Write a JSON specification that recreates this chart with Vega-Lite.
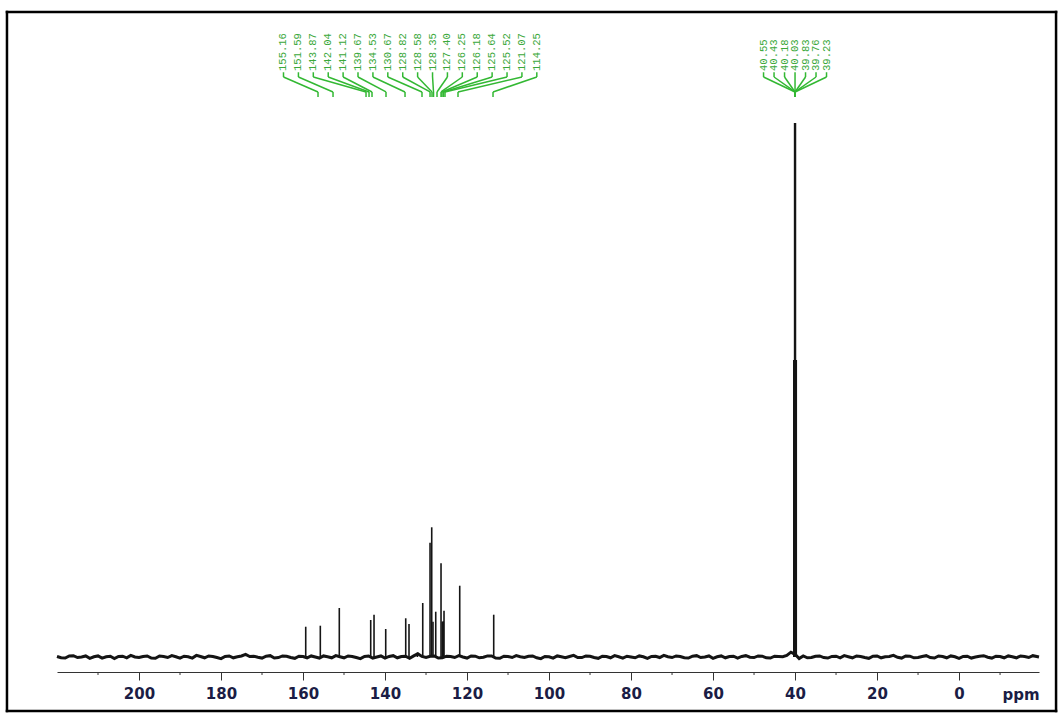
{
  "$schema": "https://vega.github.io/schema/vega-lite/v6.json",
  "autosize": {"type": "none"},
  "padding": {"left": 57, "right": 23, "top": 40, "bottom": 41},
  "width": 982,
  "height": 632,
  "background": "white",
  "config": {"view": {"stroke": null}},
  "datasets": {
    "peaks": [
      {"ppm": 159.34, "h": 5.67},
      {"ppm": 155.78, "h": 5.86},
      {"ppm": 151.15, "h": 9.18},
      {"ppm": 143.49, "h": 6.93},
      {"ppm": 142.68, "h": 7.92},
      {"ppm": 139.83, "h": 5.24},
      {"ppm": 134.95, "h": 7.25},
      {"ppm": 134.15, "h": 6.18},
      {"ppm": 132.1, "h": 0.8},
      {"ppm": 130.8, "h": 10.11},
      {"ppm": 129.02, "h": 21.4},
      {"ppm": 128.61, "h": 24.29},
      {"ppm": 128.3, "h": 6.6},
      {"ppm": 127.63, "h": 8.48},
      {"ppm": 126.34, "h": 17.55},
      {"ppm": 126.02, "h": 6.61},
      {"ppm": 125.8, "h": 6.7},
      {"ppm": 125.61, "h": 8.67},
      {"ppm": 121.78, "h": 13.35},
      {"ppm": 113.49, "h": 7.92},
      {"ppm": 40.3, "h": 55.6},
      {"ppm": 40.1, "h": 100},
      {"ppm": 39.9, "h": 100},
      {"ppm": 39.7, "h": 55.6}
    ],
    "minor": [
      {"v": 210}, {"v": 190}, {"v": 170}, {"v": 150}, {"v": 130}, {"v": 110},
      {"v": 90}, {"v": 70}, {"v": 50}, {"v": 30}, {"v": 10}, {"v": -10}
    ],
    "base": [
      {"ppm": 220, "h": 0.1}, {"ppm": 219, "h": -0.15}, {"ppm": 218, "h": -0.2}, {"ppm": 217, "h": 0.2}, {"ppm": 216, "h": 0.25}, {"ppm": 215, "h": -0.1}, {"ppm": 214, "h": 0.0}, {"ppm": 213, "h": 0.2},
      {"ppm": 212, "h": -0.25}, {"ppm": 211, "h": 0.05}, {"ppm": 210, "h": 0.2}, {"ppm": 209, "h": -0.2}, {"ppm": 208, "h": 0.05}, {"ppm": 207, "h": 0.15}, {"ppm": 206, "h": -0.3}, {"ppm": 205, "h": 0.1},
      {"ppm": 204, "h": 0.15}, {"ppm": 203, "h": -0.15}, {"ppm": 202, "h": 0.3}, {"ppm": 201, "h": 0.0}, {"ppm": 200, "h": -0.1}, {"ppm": 199, "h": 0.1}, {"ppm": 198, "h": 0.2}, {"ppm": 197, "h": -0.2},
      {"ppm": 196, "h": -0.25}, {"ppm": 195, "h": 0.2}, {"ppm": 194, "h": 0.1}, {"ppm": 193, "h": -0.1}, {"ppm": 192, "h": 0.25}, {"ppm": 191, "h": 0.05}, {"ppm": 190, "h": -0.2}, {"ppm": 189, "h": 0.15},
      {"ppm": 188, "h": 0.05}, {"ppm": 187, "h": -0.2}, {"ppm": 186, "h": 0.3}, {"ppm": 185, "h": 0.1}, {"ppm": 184, "h": -0.15}, {"ppm": 183, "h": 0.2}, {"ppm": 182, "h": 0.1}, {"ppm": 181, "h": -0.1},
      {"ppm": 180, "h": -0.3}, {"ppm": 179, "h": 0.1}, {"ppm": 178, "h": 0.2}, {"ppm": 177, "h": -0.15}, {"ppm": 176, "h": 0.05}, {"ppm": 175, "h": 0.2}, {"ppm": 174, "h": 0.5}, {"ppm": 173, "h": 0.1},
      {"ppm": 172, "h": 0.15}, {"ppm": 171, "h": -0.05}, {"ppm": 170, "h": -0.2}, {"ppm": 169, "h": 0.15}, {"ppm": 168, "h": 0.25}, {"ppm": 167, "h": -0.2}, {"ppm": 166, "h": -0.1}, {"ppm": 165, "h": 0.2},
      {"ppm": 164, "h": 0.15}, {"ppm": 163, "h": -0.1}, {"ppm": 162, "h": -0.25}, {"ppm": 161, "h": 0.15}, {"ppm": 160, "h": 0.1}, {"ppm": 159, "h": -0.15}, {"ppm": 158, "h": 0.2}, {"ppm": 157, "h": 0.0},
      {"ppm": 156, "h": -0.2}, {"ppm": 155, "h": 0.2}, {"ppm": 154, "h": 0.05}, {"ppm": 153, "h": -0.15}, {"ppm": 152, "h": 0.25}, {"ppm": 151, "h": 0.05}, {"ppm": 150, "h": -0.15}, {"ppm": 149, "h": 0.2},
      {"ppm": 148, "h": 0.1}, {"ppm": 147, "h": -0.1}, {"ppm": 146, "h": -0.3}, {"ppm": 145, "h": 0.1}, {"ppm": 144, "h": 0.2}, {"ppm": 143, "h": -0.2}, {"ppm": 142, "h": 0.0}, {"ppm": 141, "h": 0.2},
      {"ppm": 140, "h": -0.2}, {"ppm": 139, "h": 0.1}, {"ppm": 138, "h": 0.25}, {"ppm": 137, "h": -0.15}, {"ppm": 136, "h": 0.1}, {"ppm": 135, "h": 0.15}, {"ppm": 134, "h": -0.25}, {"ppm": 133, "h": 0.2},
      {"ppm": 132, "h": 0.6}, {"ppm": 131, "h": 0.1}, {"ppm": 130, "h": -0.1}, {"ppm": 129, "h": 0.15}, {"ppm": 128, "h": 0.2}, {"ppm": 127, "h": -0.2}, {"ppm": 126, "h": -0.15}, {"ppm": 125, "h": 0.15},
      {"ppm": 124, "h": 0.1}, {"ppm": 123, "h": -0.1}, {"ppm": 122, "h": 0.25}, {"ppm": 121, "h": 0.0}, {"ppm": 120, "h": -0.2}, {"ppm": 119, "h": 0.2}, {"ppm": 118, "h": 0.15}, {"ppm": 117, "h": -0.15},
      {"ppm": 116, "h": -0.05}, {"ppm": 115, "h": 0.2}, {"ppm": 114, "h": 0.2}, {"ppm": 113, "h": -0.2}, {"ppm": 112, "h": -0.25}, {"ppm": 111, "h": 0.15}, {"ppm": 110, "h": 0.1}, {"ppm": 109, "h": -0.1},
      {"ppm": 108, "h": 0.25}, {"ppm": 107, "h": 0.05}, {"ppm": 106, "h": -0.1}, {"ppm": 105, "h": 0.15}, {"ppm": 104, "h": 0.2}, {"ppm": 103, "h": -0.15}, {"ppm": 102, "h": -0.3}, {"ppm": 101, "h": 0.1},
      {"ppm": 100, "h": 0.05}, {"ppm": 99, "h": -0.2}, {"ppm": 98, "h": 0.2}, {"ppm": 97, "h": 0.05}, {"ppm": 96, "h": -0.15}, {"ppm": 95, "h": 0.1}, {"ppm": 94, "h": 0.3}, {"ppm": 93, "h": -0.1},
      {"ppm": 92, "h": -0.1}, {"ppm": 91, "h": 0.2}, {"ppm": 90, "h": 0.15}, {"ppm": 89, "h": -0.1}, {"ppm": 88, "h": -0.25}, {"ppm": 87, "h": 0.15}, {"ppm": 86, "h": 0.1}, {"ppm": 85, "h": -0.15},
      {"ppm": 84, "h": 0.25}, {"ppm": 83, "h": 0.05}, {"ppm": 82, "h": -0.2}, {"ppm": 81, "h": 0.15}, {"ppm": 80, "h": 0.0}, {"ppm": 79, "h": -0.15}, {"ppm": 78, "h": 0.2}, {"ppm": 77, "h": 0.05},
      {"ppm": 76, "h": -0.25}, {"ppm": 75, "h": 0.1}, {"ppm": 74, "h": 0.15}, {"ppm": 73, "h": -0.1}, {"ppm": 72, "h": 0.3}, {"ppm": 71, "h": 0.05}, {"ppm": 70, "h": -0.1}, {"ppm": 69, "h": 0.2},
      {"ppm": 68, "h": 0.1}, {"ppm": 67, "h": -0.15}, {"ppm": 66, "h": -0.2}, {"ppm": 65, "h": 0.15}, {"ppm": 64, "h": 0.25}, {"ppm": 63, "h": -0.1}, {"ppm": 62, "h": 0.0}, {"ppm": 61, "h": 0.2},
      {"ppm": 60, "h": -0.25}, {"ppm": 59, "h": 0.05}, {"ppm": 58, "h": 0.2}, {"ppm": 57, "h": -0.15}, {"ppm": 56, "h": 0.1}, {"ppm": 55, "h": 0.15}, {"ppm": 54, "h": -0.2}, {"ppm": 53, "h": 0.1},
      {"ppm": 52, "h": 0.25}, {"ppm": 51, "h": -0.05}, {"ppm": 50, "h": -0.1}, {"ppm": 49, "h": 0.2}, {"ppm": 48, "h": 0.15}, {"ppm": 47, "h": -0.15}, {"ppm": 46, "h": -0.2}, {"ppm": 45, "h": 0.15},
      {"ppm": 44, "h": 0.1}, {"ppm": 43, "h": 0.05}, {"ppm": 42, "h": 0.3}, {"ppm": 41, "h": 0.9}, {"ppm": 40, "h": 0.5},
      {"ppm": 39, "h": -0.3}, {"ppm": 38, "h": 0.2}, {"ppm": 37, "h": -0.15}, {"ppm": 36, "h": -0.1}, {"ppm": 35, "h": 0.15}, {"ppm": 34, "h": 0.2}, {"ppm": 33, "h": -0.1},
      {"ppm": 32, "h": -0.2}, {"ppm": 31, "h": 0.1}, {"ppm": 30, "h": 0.15}, {"ppm": 29, "h": -0.15}, {"ppm": 28, "h": 0.25}, {"ppm": 27, "h": 0.05}, {"ppm": 26, "h": -0.15}, {"ppm": 25, "h": 0.2},
      {"ppm": 24, "h": 0.1}, {"ppm": 23, "h": -0.1}, {"ppm": 22, "h": -0.25}, {"ppm": 21, "h": 0.15}, {"ppm": 20, "h": 0.2}, {"ppm": 19, "h": -0.15}, {"ppm": 18, "h": 0.05}, {"ppm": 17, "h": 0.1},
      {"ppm": 16, "h": 0.3}, {"ppm": 15, "h": -0.05}, {"ppm": 14, "h": -0.2}, {"ppm": 13, "h": 0.2}, {"ppm": 12, "h": 0.15}, {"ppm": 11, "h": -0.15}, {"ppm": 10, "h": -0.1}, {"ppm": 9, "h": 0.1},
      {"ppm": 8, "h": 0.25}, {"ppm": 7, "h": -0.1}, {"ppm": 6, "h": -0.2}, {"ppm": 5, "h": 0.2}, {"ppm": 4, "h": 0.1}, {"ppm": 3, "h": -0.15}, {"ppm": 2, "h": 0.2}, {"ppm": 1, "h": 0.05},
      {"ppm": 0, "h": -0.25}, {"ppm": -1, "h": 0.1}, {"ppm": -2, "h": 0.15}, {"ppm": -3, "h": -0.2}, {"ppm": -4, "h": 0.0}, {"ppm": -5, "h": 0.15}, {"ppm": -6, "h": 0.25}, {"ppm": -7, "h": -0.05},
      {"ppm": -8, "h": -0.2}, {"ppm": -9, "h": 0.15}, {"ppm": -10, "h": 0.1}, {"ppm": -11, "h": -0.15}, {"ppm": -12, "h": 0.2}, {"ppm": -13, "h": 0.05}, {"ppm": -14, "h": -0.15}, {"ppm": -15, "h": 0.2},
      {"ppm": -16, "h": 0.1}, {"ppm": -17, "h": -0.1}, {"ppm": -18, "h": 0.25}, {"ppm": -19.5, "h": 0.0}
    ],
    "labels": [
      {"t": "155.16", "lx": 164.76, "tx": 156.34},
      {"t": "151.59", "lx": 161.12, "tx": 152.68},
      {"t": "143.87", "lx": 157.49, "tx": 144.63},
      {"t": "142.04", "lx": 153.85, "tx": 143.9},
      {"t": "141.12", "lx": 150.22, "tx": 143.17},
      {"t": "139.67", "lx": 146.59, "tx": 139.76},
      {"t": "134.53", "lx": 142.95, "tx": 135.12},
      {"t": "130.67", "lx": 139.32, "tx": 130.98},
      {"t": "128.82", "lx": 135.68, "tx": 129.02},
      {"t": "128.58", "lx": 132.05, "tx": 128.54},
      {"t": "128.35", "lx": 128.41, "tx": 128.17},
      {"t": "127.40", "lx": 124.78, "tx": 127.32},
      {"t": "126.25", "lx": 121.15, "tx": 126.34},
      {"t": "126.18", "lx": 117.51, "tx": 126.1},
      {"t": "125.64", "lx": 113.88, "tx": 125.73},
      {"t": "125.52", "lx": 110.24, "tx": 125.37},
      {"t": "121.07", "lx": 106.61, "tx": 122.2},
      {"t": "114.25", "lx": 102.98, "tx": 113.66},
      {"t": "40.55", "lx": 47.68, "tx": 40.0},
      {"t": "40.43", "lx": 45.12, "tx": 40.0},
      {"t": "40.18", "lx": 42.56, "tx": 40.0},
      {"t": "40.03", "lx": 40.0, "tx": 40.0},
      {"t": "39.83", "lx": 37.44, "tx": 40.0},
      {"t": "39.76", "lx": 34.88, "tx": 40.0},
      {"t": "39.23", "lx": 32.32, "tx": 40.0}
    ]
  },
  "layer": [
    {
      "data": {"name": "base"},
      "mark": {"type": "line", "color": "#141414", "strokeWidth": 3},
      "encoding": {
        "x": {"field": "ppm", "type": "quantitative", "scale": {"domain": [220, -19.5], "nice": false, "zero": false},
          "axis": {
            "title": "ppm",
            "titleX": 963.5,
            "titleY": 15,
            "titleAlign": "center",
            "titleBaseline": "top",
            "titleAngle": 0,
            "titleFont": "DejaVu Sans",
            "titleFontWeight": "bold",
            "titleFontSize": 15,
            "titleColor": "#1b1d45",
            "grid": false,
            "values": [200, 180, 160, 140, 120, 100, 80, 60, 40, 20, 0],
            "format": "d",
            "tickSize": 8,
            "tickColor": "#333333",
            "domainColor": "#333333",
            "domainWidth": 1,
            "labelFont": "DejaVu Sans",
            "labelFontWeight": "bold",
            "labelFontSize": 15,
            "labelColor": "#1b1d45",
            "labelPadding": 6,
            "labelOverlap": false,
            "labelFlush": false
          }
        },
        "y": {"field": "h", "type": "quantitative", "scale": {"domain": [-2.809, 115.54], "nice": false, "zero": false}, "axis": null}
      }
    },
    {
      "data": {"name": "peaks"},
      "mark": {"type": "rule", "color": "#151515", "strokeWidth": 1.6},
      "encoding": {
        "x": {"field": "ppm", "type": "quantitative"},
        "y": {"field": "h", "type": "quantitative"},
        "y2": {"datum": 0}
      }
    },
    {
      "data": {"name": "minor"},
      "mark": {"type": "rule", "color": "#333333", "strokeWidth": 1},
      "encoding": {
        "x": {"field": "v", "type": "quantitative"},
        "y": {"datum": -2.809, "type": "quantitative"},
        "y2": {"datum": -3.37}
      }
    },
    {
      "data": {"name": "labels"},
      "mark": {"type": "text", "angle": 270, "align": "left", "baseline": "middle", "font": "Liberation Mono", "fontSize": 10.5, "color": "#3aa83a"},
      "encoding": {
        "x": {"field": "lx", "type": "quantitative"},
        "y": {"datum": 109.74, "type": "quantitative"},
        "text": {"field": "t"}
      }
    },
    {
      "data": {"name": "labels"},
      "mark": {"type": "rule", "color": "#33b833", "strokeWidth": 1.5},
      "encoding": {
        "x": {"field": "lx", "type": "quantitative"},
        "y": {"datum": 109.5, "type": "quantitative"},
        "y2": {"datum": 108.61}
      }
    },
    {
      "data": {"name": "labels"},
      "mark": {"type": "rule", "color": "#33b833", "strokeWidth": 1.5},
      "encoding": {
        "x": {"field": "lx", "type": "quantitative"},
        "x2": {"field": "tx"},
        "y": {"datum": 108.61, "type": "quantitative"},
        "y2": {"datum": 105.81}
      }
    },
    {
      "data": {"name": "labels"},
      "mark": {"type": "rule", "color": "#33b833", "strokeWidth": 1.5},
      "encoding": {
        "x": {"field": "tx", "type": "quantitative"},
        "y": {"datum": 105.81, "type": "quantitative"},
        "y2": {"datum": 104.87}
      }
    },
    {
      "data": {"values": [{"edge": "top"}]},
      "mark": {"type": "rule", "color": "#000000", "strokeWidth": 2.5, "strokeCap": "square"},
      "encoding": {
        "x": {"datum": 232.2, "type": "quantitative"},
        "x2": {"datum": -23.66},
        "y": {"datum": 120.79, "type": "quantitative"}
      }
    },
    {
      "data": {"values": [{"edge": "bottom"}]},
      "mark": {"type": "rule", "color": "#000000", "strokeWidth": 2.5, "strokeCap": "square"},
      "encoding": {
        "x": {"datum": 232.2, "type": "quantitative"},
        "x2": {"datum": -23.66},
        "y": {"datum": -10.11, "type": "quantitative"}
      }
    },
    {
      "data": {"values": [{"edge": "left"}]},
      "mark": {"type": "rule", "color": "#000000", "strokeWidth": 2.5, "strokeCap": "square"},
      "encoding": {
        "x": {"datum": 232.2, "type": "quantitative"},
        "y": {"datum": 120.79, "type": "quantitative"},
        "y2": {"datum": -10.11}
      }
    },
    {
      "data": {"values": [{"edge": "right"}]},
      "mark": {"type": "rule", "color": "#000000", "strokeWidth": 2.5, "strokeCap": "square"},
      "encoding": {
        "x": {"datum": -23.66, "type": "quantitative"},
        "y": {"datum": 120.79, "type": "quantitative"},
        "y2": {"datum": -10.11}
      }
    }
  ]
}
